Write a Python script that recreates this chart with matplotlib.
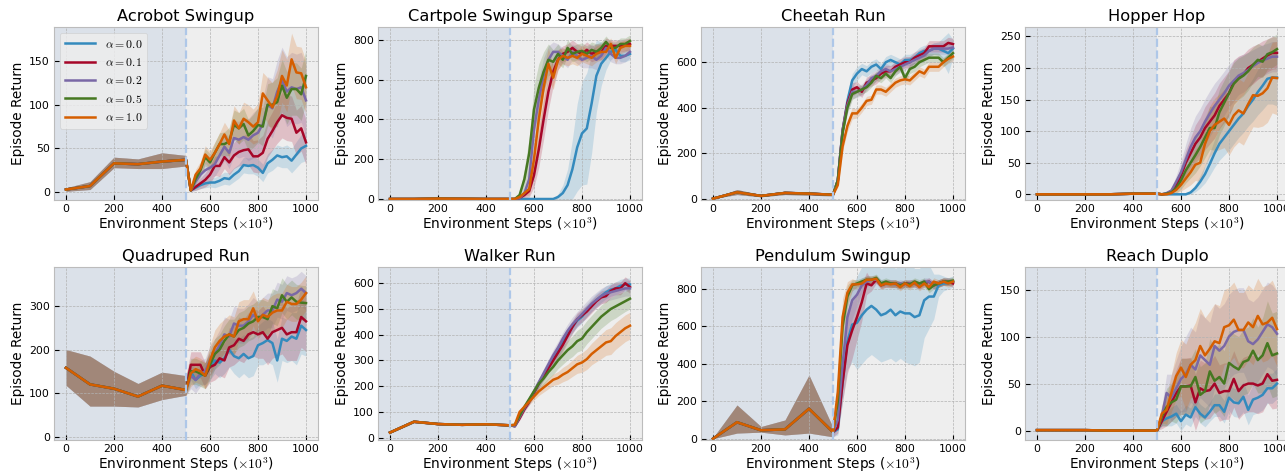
import matplotlib
matplotlib.use("Agg")
import matplotlib.pyplot as plt

plt.style.use("bmh")
plt.rcParams["mathtext.fontset"] = "cm"

# x positions (x 10^3 steps)
x_offline = [0, 100, 200, 300, 400, 500]
x_online = [520, 540, 560, 580, 600, 620, 640, 660, 680, 700, 720, 740, 760,
            780, 800, 820, 840, 860, 880, 900, 920, 940, 960, 980, 1000]
alphas = ["0.0", "0.1", "0.2", "0.5", "1.0"]

# Acrobot Swingup
acrobot_off = [3, 7, 33, 32, 35, 37]
acrobot_off_lo = [1, 3, 28, 27, 27, 30]
acrobot_off_hi = [5, 12, 40, 38, 45, 42]
acrobot_mean = [
    [2, 5, 8, 10, 11, 11, 13, 16, 15, 20, 24, 31, 30, 31, 28, 22, 33, 37, 42, 40, 41, 36, 43, 50, 53],
    [2, 6, 10, 14, 20, 30, 30, 40, 34, 42, 46, 48, 49, 41, 41, 45, 61, 70, 80, 88, 85, 84, 68, 73, 57],
    [2, 12, 20, 25, 28, 32, 42, 52, 45, 62, 60, 63, 60, 65, 68, 78, 100, 96, 115, 128, 115, 120, 118, 120, 105],
    [2, 15, 25, 40, 34, 45, 55, 55, 58, 77, 73, 78, 65, 70, 77, 75, 100, 100, 103, 122, 108, 118, 118, 112, 133],
    [2, 20, 27, 43, 37, 45, 55, 66, 55, 82, 73, 84, 80, 75, 80, 113, 105, 97, 110, 133, 122, 152, 137, 136, 120],
]
acrobot_spread = [
    [1, 3, 4, 5, 5, 6, 6, 7, 7, 8, 8, 9, 9, 10, 10, 10, 11, 12, 12, 12, 13, 14, 15, 16, 17],
    [1, 4, 6, 8, 10, 11, 12, 13, 14, 15, 16, 17, 18, 18, 19, 20, 21, 22, 24, 26, 26, 26, 26, 26, 26],
    [1, 6, 8, 10, 12, 14, 15, 16, 18, 20, 21, 22, 24, 26, 28, 30, 32, 34, 36, 38, 40, 40, 40, 40, 40],
    [1, 6, 8, 10, 10, 12, 13, 14, 16, 17, 18, 18, 18, 19, 20, 22, 24, 26, 28, 30, 30, 30, 30, 30, 30],
    [1, 6, 8, 10, 10, 12, 13, 14, 16, 17, 18, 19, 20, 20, 22, 24, 26, 28, 30, 30, 30, 30, 30, 30, 30],
]

# Cartpole Swingup Sparse
cartpole_off = [0, 0, 2, 1, 0, 0]
cartpole_off_lo = [0, 0, 0, 0, 0, 0]
cartpole_off_hi = [1, 2, 5, 4, 2, 1]
cartpole_mean = [
    [0, 0, 0, 0, 0, 0, 0, 0, 0, 10, 30, 70, 150, 260, 330, 355, 480, 620, 680, 710, 740, 750, 720, 720, 730],
    [0, 5, 20, 40, 120, 250, 400, 540, 640, 700, 730, 740, 760, 740, 730, 750, 730, 740, 740, 770, 770, 770, 770, 775, 780],
    [0, 5, 30, 100, 350, 500, 620, 700, 740, 740, 720, 700, 740, 720, 700, 710, 720, 700, 720, 760, 730, 710, 710, 720, 740],
    [0, 20, 100, 230, 450, 560, 640, 700, 690, 730, 700, 760, 730, 740, 745, 730, 750, 740, 760, 790, 760, 760, 780, 780, 795],
    [0, 10, 30, 50, 200, 400, 560, 680, 610, 700, 720, 710, 720, 710, 730, 720, 710, 730, 740, 740, 780, 710, 760, 770, 770],
]
cartpole_spread = [
    [0, 0, 0, 0, 0, 0, 0, 0, 5, 15, 40, 80, 150, 220, 260, 280, 250, 180, 110, 60, 40, 30, 30, 30, 30],
    [0, 5, 15, 30, 60, 90, 100, 90, 70, 50, 40, 40, 40, 40, 40, 40, 40, 40, 40, 40, 30, 30, 30, 30, 30],
    [0, 5, 20, 60, 100, 100, 90, 70, 50, 40, 40, 40, 40, 40, 40, 50, 60, 50, 40, 40, 40, 30, 30, 30, 30],
    [0, 10, 50, 80, 120, 120, 100, 80, 60, 50, 40, 40, 40, 40, 40, 40, 40, 40, 30, 30, 30, 30, 30, 30, 30],
    [0, 5, 15, 30, 80, 100, 100, 80, 60, 50, 40, 40, 40, 40, 40, 40, 40, 40, 40, 40, 30, 30, 30, 30, 30],
]

# Cheetah Run
cheetah_off = [0, 28, 12, 25, 22, 17]
cheetah_off_lo = [0, 18, 8, 18, 15, 12]
cheetah_off_hi = [3, 40, 18, 33, 30, 22]
cheetah_mean = [
    [80, 300, 430, 520, 550, 570, 560, 580, 590, 570, 600, 610, 600, 590, 610, 610, 620, 640, 650, 650, 660, 660, 650, 640, 660],
    [80, 300, 420, 480, 490, 470, 510, 520, 530, 550, 560, 560, 580, 590, 600, 600, 620, 630, 640, 670, 670, 670, 670, 685, 680],
    [80, 300, 410, 470, 470, 480, 500, 530, 540, 560, 570, 560, 570, 580, 590, 600, 610, 620, 630, 650, 660, 660, 660, 660, 665],
    [80, 290, 400, 460, 470, 480, 490, 510, 540, 530, 550, 530, 560, 580, 530, 570, 580, 600, 610, 620, 620, 620, 600, 620, 640],
    [60, 230, 320, 375, 375, 400, 430, 435, 480, 480, 470, 490, 510, 520, 525, 520, 540, 560, 550, 580, 580, 580, 600, 615, 625],
]
cheetah_spread = [
    [10, 25, 30, 30, 30, 25, 25, 25, 25, 25, 25, 25, 25, 25, 25, 25, 25, 25, 25, 25, 25, 30, 60, 90, 40],
    [10, 25, 30, 30, 25, 25, 25, 25, 25, 25, 25, 25, 25, 25, 25, 25, 25, 25, 25, 25, 25, 25, 25, 25, 25],
    [10, 25, 30, 30, 25, 25, 25, 25, 25, 25, 25, 25, 25, 25, 25, 25, 25, 25, 25, 25, 25, 25, 25, 25, 25],
    [10, 20, 25, 25, 20, 20, 20, 20, 20, 20, 20, 20, 20, 20, 20, 20, 20, 20, 20, 20, 20, 20, 20, 20, 20],
    [10, 20, 25, 25, 20, 20, 20, 20, 20, 20, 20, 20, 20, 20, 20, 20, 20, 20, 20, 20, 20, 20, 20, 20, 20],
]

# Hopper Hop
hopper_off = [0, 0, 0, 0, 1, 1]
hopper_off_lo = [0, 0, 0, 0, 0, 0]
hopper_off_hi = [1, 1, 1, 1, 2, 2]
hopper_mean = [
    [0, 0, 0, 0, 0, 0, 3, 10, 20, 32, 48, 65, 80, 90, 100, 110, 120, 128, 140, 150, 162, 172, 183, 185, 185],
    [0, 1, 5, 15, 30, 50, 65, 80, 90, 105, 115, 125, 140, 150, 160, 178, 185, 190, 200, 205, 210, 215, 220, 224, 224],
    [0, 2, 6, 20, 35, 55, 75, 90, 100, 115, 128, 140, 150, 160, 172, 180, 188, 192, 197, 203, 208, 212, 215, 218, 218],
    [0, 1, 3, 10, 22, 38, 50, 62, 75, 90, 105, 105, 130, 145, 160, 175, 183, 188, 195, 205, 213, 210, 222, 225, 230],
    [0, 0, 2, 7, 15, 25, 35, 47, 50, 80, 100, 110, 115, 120, 110, 125, 133, 128, 143, 157, 156, 160, 168, 185, 184],
]
hopper_spread = [
    [0, 0, 0, 0, 0, 1, 3, 6, 10, 14, 18, 22, 26, 28, 30, 30, 30, 30, 32, 34, 36, 38, 40, 42, 45],
    [0, 1, 3, 8, 14, 20, 25, 30, 32, 34, 35, 36, 36, 36, 36, 35, 34, 32, 30, 30, 28, 28, 26, 26, 25],
    [0, 1, 4, 10, 18, 25, 30, 34, 36, 36, 36, 36, 35, 35, 34, 32, 30, 30, 28, 26, 25, 25, 24, 24, 24],
    [0, 1, 3, 8, 14, 20, 24, 28, 30, 32, 34, 35, 36, 36, 35, 34, 33, 32, 30, 28, 26, 25, 24, 24, 24],
    [0, 1, 2, 5, 10, 15, 20, 25, 30, 35, 40, 42, 44, 46, 48, 50, 50, 50, 50, 50, 50, 52, 54, 56, 58],
]

# Quadruped Run
quadruped_off = [158, 120, 110, 92, 117, 107]
quadruped_off_lo = [118, 70, 70, 68, 85, 95]
quadruped_off_hi = [200, 185, 150, 122, 148, 140]
quadruped_mean = [
    [150, 130, 140, 145, 160, 175, 170, 180, 200, 185, 180, 190, 180, 185, 210, 215, 222, 215, 175, 225, 220, 230, 225, 255, 245],
    [165, 165, 165, 140, 160, 165, 180, 175, 205, 210, 225, 220, 235, 240, 235, 240, 225, 240, 245, 250, 235, 240, 240, 275, 265],
    [140, 130, 145, 150, 175, 190, 210, 235, 230, 260, 255, 255, 265, 280, 270, 280, 290, 290, 315, 310, 330, 325, 330, 340, 330],
    [150, 150, 145, 140, 165, 190, 200, 220, 235, 230, 245, 250, 260, 265, 275, 275, 270, 300, 295, 325, 310, 320, 310, 308, 307],
    [145, 155, 150, 140, 175, 205, 220, 230, 235, 230, 265, 270, 270, 295, 265, 280, 275, 285, 290, 290, 310, 305, 305, 315, 330],
]
quadruped_spread = [
    [20, 20, 20, 25, 30, 30, 35, 35, 40, 40, 45, 45, 45, 45, 45, 50, 50, 50, 50, 50, 50, 55, 60, 65, 60],
    [30, 30, 30, 30, 35, 35, 40, 40, 45, 45, 50, 50, 50, 55, 55, 60, 60, 60, 60, 60, 60, 65, 65, 70, 70],
    [30, 30, 30, 30, 35, 35, 35, 40, 40, 40, 40, 40, 40, 40, 40, 40, 40, 40, 40, 40, 40, 40, 40, 40, 40],
    [30, 30, 30, 30, 35, 35, 35, 35, 35, 40, 40, 40, 40, 40, 40, 40, 40, 40, 40, 40, 40, 40, 40, 40, 40],
    [30, 30, 30, 30, 35, 40, 40, 40, 45, 45, 45, 45, 45, 40, 40, 40, 40, 40, 40, 40, 40, 40, 40, 40, 40],
]

# Walker Run
walker_off = [20, 62, 53, 50, 52, 48]
walker_off_lo = [17, 58, 50, 47, 49, 45]
walker_off_hi = [23, 68, 57, 54, 56, 52]
walker_mean = [
    [45, 80, 115, 140, 175, 210, 245, 275, 305, 335, 370, 405, 430, 455, 470, 495, 515, 535, 550, 565, 575, 580, 590, 595, 595],
    [45, 75, 110, 140, 175, 210, 240, 270, 300, 330, 360, 395, 430, 460, 475, 490, 510, 530, 545, 550, 570, 580, 580, 600, 585],
    [45, 80, 115, 145, 180, 215, 250, 285, 320, 350, 385, 415, 440, 460, 480, 500, 520, 535, 550, 560, 565, 570, 575, 580, 580],
    [50, 85, 120, 150, 180, 210, 230, 255, 275, 300, 320, 340, 355, 375, 385, 410, 430, 450, 470, 485, 500, 510, 520, 530, 540],
    [50, 100, 120, 140, 160, 180, 195, 210, 225, 232, 245, 255, 270, 285, 292, 305, 325, 340, 355, 370, 375, 395, 410, 425, 435],
]
walker_spread = [
    [5, 8, 10, 12, 14, 16, 18, 20, 22, 24, 25, 25, 25, 25, 25, 25, 25, 25, 25, 25, 25, 25, 25, 25, 25],
    [5, 8, 10, 12, 14, 16, 18, 20, 22, 24, 25, 25, 25, 25, 25, 25, 25, 25, 25, 25, 25, 25, 25, 25, 25],
    [5, 8, 10, 12, 14, 16, 18, 20, 22, 24, 25, 26, 28, 30, 30, 30, 30, 30, 30, 30, 30, 30, 30, 30, 30],
    [5, 8, 10, 15, 18, 22, 25, 28, 30, 32, 35, 38, 40, 42, 45, 45, 45, 45, 45, 45, 45, 45, 42, 40, 40],
    [5, 8, 10, 12, 14, 16, 18, 20, 22, 25, 28, 30, 32, 35, 38, 40, 42, 45, 48, 50, 52, 52, 52, 52, 52],
]

# Pendulum Swingup
pendulum_off = [0, 88, 45, 50, 160, 35]
pendulum_off_lo = [0, 30, 35, 20, 30, 10]
pendulum_off_hi = [5, 180, 65, 100, 340, 60]
pendulum_mean = [
    [50, 300, 520, 610, 620, 660, 690, 710, 690, 660, 670, 690, 660, 680, 670, 670, 650, 660, 740, 760, 760, 820, 830, 830, 840],
    [60, 300, 500, 580, 650, 730, 830, 820, 850, 820, 830, 830, 830, 820, 830, 830, 830, 820, 830, 840, 820, 830, 840, 840, 830],
    [100, 400, 650, 740, 770, 820, 840, 850, 850, 830, 830, 830, 825, 830, 825, 830, 830, 820, 840, 840, 820, 830, 840, 840, 840],
    [200, 600, 760, 820, 830, 840, 850, 850, 860, 830, 840, 830, 830, 820, 830, 825, 840, 830, 840, 800, 820, 830, 840, 840, 845],
    [250, 650, 780, 825, 825, 830, 850, 850, 855, 820, 830, 825, 830, 810, 830, 815, 835, 810, 830, 810, 840, 830, 840, 830, 840],
]
pendulum_spread = [
    [30, 100, 150, 200, 250, 260, 260, 260, 260, 250, 250, 260, 250, 250, 260, 270, 260, 250, 200, 170, 120, 60, 40, 30, 30],
    [30, 100, 150, 150, 120, 100, 60, 30, 20, 20, 20, 20, 20, 20, 20, 20, 20, 20, 20, 20, 20, 20, 20, 20, 20],
    [40, 120, 120, 100, 60, 40, 30, 20, 20, 20, 20, 20, 20, 20, 20, 20, 20, 20, 20, 20, 20, 20, 20, 20, 20],
    [60, 100, 60, 30, 20, 20, 20, 20, 20, 20, 20, 20, 20, 20, 20, 20, 20, 20, 20, 20, 20, 20, 20, 20, 20],
    [60, 100, 60, 30, 20, 20, 20, 20, 20, 20, 20, 20, 20, 20, 20, 20, 20, 20, 20, 20, 20, 20, 20, 20, 20],
]

# Reach Duplo
reach_off = [0.5, 0.5, 0.5, 0, 0, 0]
reach_off_lo = [0, 0, 0, 0, 0, 0]
reach_off_hi = [1, 1, 1, 1, 1, 1]
reach_mean = [
    [10, 13, 15, 18, 10, 17, 14, 25, 18, 14, 20, 27, 27, 20, 35, 30, 29, 36, 22, 33, 35, 38, 45, 45, 50],
    [10, 20, 30, 40, 47, 47, 48, 30, 45, 42, 43, 50, 40, 42, 42, 55, 42, 48, 50, 50, 48, 50, 60, 53, 54],
    [15, 40, 35, 45, 55, 60, 70, 65, 80, 75, 70, 90, 85, 90, 100, 105, 107, 107, 95, 92, 97, 105, 113, 110, 103],
    [15, 25, 30, 33, 47, 47, 47, 57, 38, 42, 63, 53, 57, 50, 72, 68, 65, 73, 75, 85, 75, 80, 93, 80, 82],
    [18, 22, 40, 58, 67, 57, 70, 75, 90, 80, 87, 95, 93, 110, 112, 118, 107, 107, 115, 110, 122, 113, 115, 120, 108],
]
reach_spread = [
    [5, 8, 10, 10, 10, 10, 10, 10, 10, 10, 10, 12, 12, 12, 14, 15, 15, 16, 16, 16, 16, 16, 16, 16, 16],
    [8, 15, 20, 25, 30, 30, 30, 30, 30, 30, 30, 30, 30, 30, 30, 30, 30, 30, 30, 30, 30, 30, 30, 30, 30],
    [10, 20, 25, 30, 35, 40, 40, 40, 45, 45, 45, 45, 45, 45, 45, 45, 45, 45, 45, 45, 45, 45, 45, 45, 45],
    [10, 20, 20, 25, 30, 30, 30, 30, 30, 30, 35, 35, 35, 35, 35, 35, 35, 35, 35, 35, 35, 40, 45, 45, 45],
    [10, 15, 20, 25, 30, 35, 35, 40, 40, 40, 40, 40, 40, 40, 40, 40, 40, 40, 40, 40, 40, 40, 40, 40, 40],
]

panels = [
    ("Acrobot Swingup", acrobot_off, acrobot_off_lo, acrobot_off_hi, acrobot_mean, acrobot_spread,
     [0, 50, 100, 150], (-9, 189)),
    ("Cartpole Swingup Sparse", cartpole_off, cartpole_off_lo, cartpole_off_hi, cartpole_mean, cartpole_spread,
     [0, 200, 400, 600, 800], (-5, 865)),
    ("Cheetah Run", cheetah_off, cheetah_off_lo, cheetah_off_hi, cheetah_mean, cheetah_spread,
     [0, 200, 400, 600], (-6, 755)),
    ("Hopper Hop", hopper_off, hopper_off_lo, hopper_off_hi, hopper_mean, hopper_spread,
     [0, 50, 100, 150, 200, 250], (-9, 265)),
    ("Quadruped Run", quadruped_off, quadruped_off_lo, quadruped_off_hi, quadruped_mean, quadruped_spread,
     [0, 100, 200, 300], (-8, 390)),
    ("Walker Run", walker_off, walker_off_lo, walker_off_hi, walker_mean, walker_spread,
     [0, 100, 200, 300, 400, 500, 600], (-9, 663)),
    ("Pendulum Swingup", pendulum_off, pendulum_off_lo, pendulum_off_hi, pendulum_mean, pendulum_spread,
     [0, 200, 400, 600, 800], (-7, 918)),
    ("Reach Duplo", reach_off, reach_off_lo, reach_off_hi, reach_mean, reach_spread,
     [0, 50, 100, 150], (-10, 174)),
]

colors = ["#348ABD", "#A60628", "#7A68A6", "#467821", "#D55E00"]

fig = plt.figure(figsize=(12.85, 4.74), dpi=100)
lefts = [54, 378, 701, 1025]
bottoms = [474 - 200, 474 - 440]

for k, (title, off, off_lo, off_hi, means, spreads, yticks, ylim) in enumerate(panels):
    row, col = divmod(k, 4)
    ax = fig.add_axes([lefts[col] / 1285, bottoms[row] / 474, 264 / 1285, 173 / 474])
    xs = x_offline + x_online
    handles = []
    for i in range(5):
        lo = off_lo + [m - s for m, s in zip(means[i], spreads[i])]
        hi = off_hi + [m + s for m, s in zip(means[i], spreads[i])]
        ax.fill_between(xs, lo, hi, color=colors[i], alpha=0.2, linewidth=0)
    for i in range(5):
        ys = off + means[i]
        h, = ax.plot(xs, ys, color=colors[i], lw=1.8, label=r"$\alpha=%s$" % alphas[i])
        handles.append(h)
    ax.set_xlim(-50, 1050)
    ax.set_ylim(*ylim)
    ax.axvspan(-50, 500, color="lightsteelblue", alpha=0.3, lw=0, zorder=0)
    ax.axvline(500, color="#aec7e8", ls="--", lw=1.6)
    ax.set_xticks([0, 200, 400, 600, 800, 1000])
    ax.set_yticks(yticks)
    ax.tick_params(labelsize=7.8, pad=3)
    ax.set_title(title, fontsize=11.7, pad=4)
    ax.set_ylabel("Episode Return", fontsize=9.8, labelpad=3)
    ax.set_xlabel(r"Environment Steps ($\times 10^3$)", fontsize=9.8, labelpad=1)
    if k == 0:
        ax.legend(handles=handles, loc="upper left", fontsize=8.5, handlelength=2.6,
                  labelspacing=0.45, borderaxespad=0.5)

fig.savefig("out.png", dpi=100)
